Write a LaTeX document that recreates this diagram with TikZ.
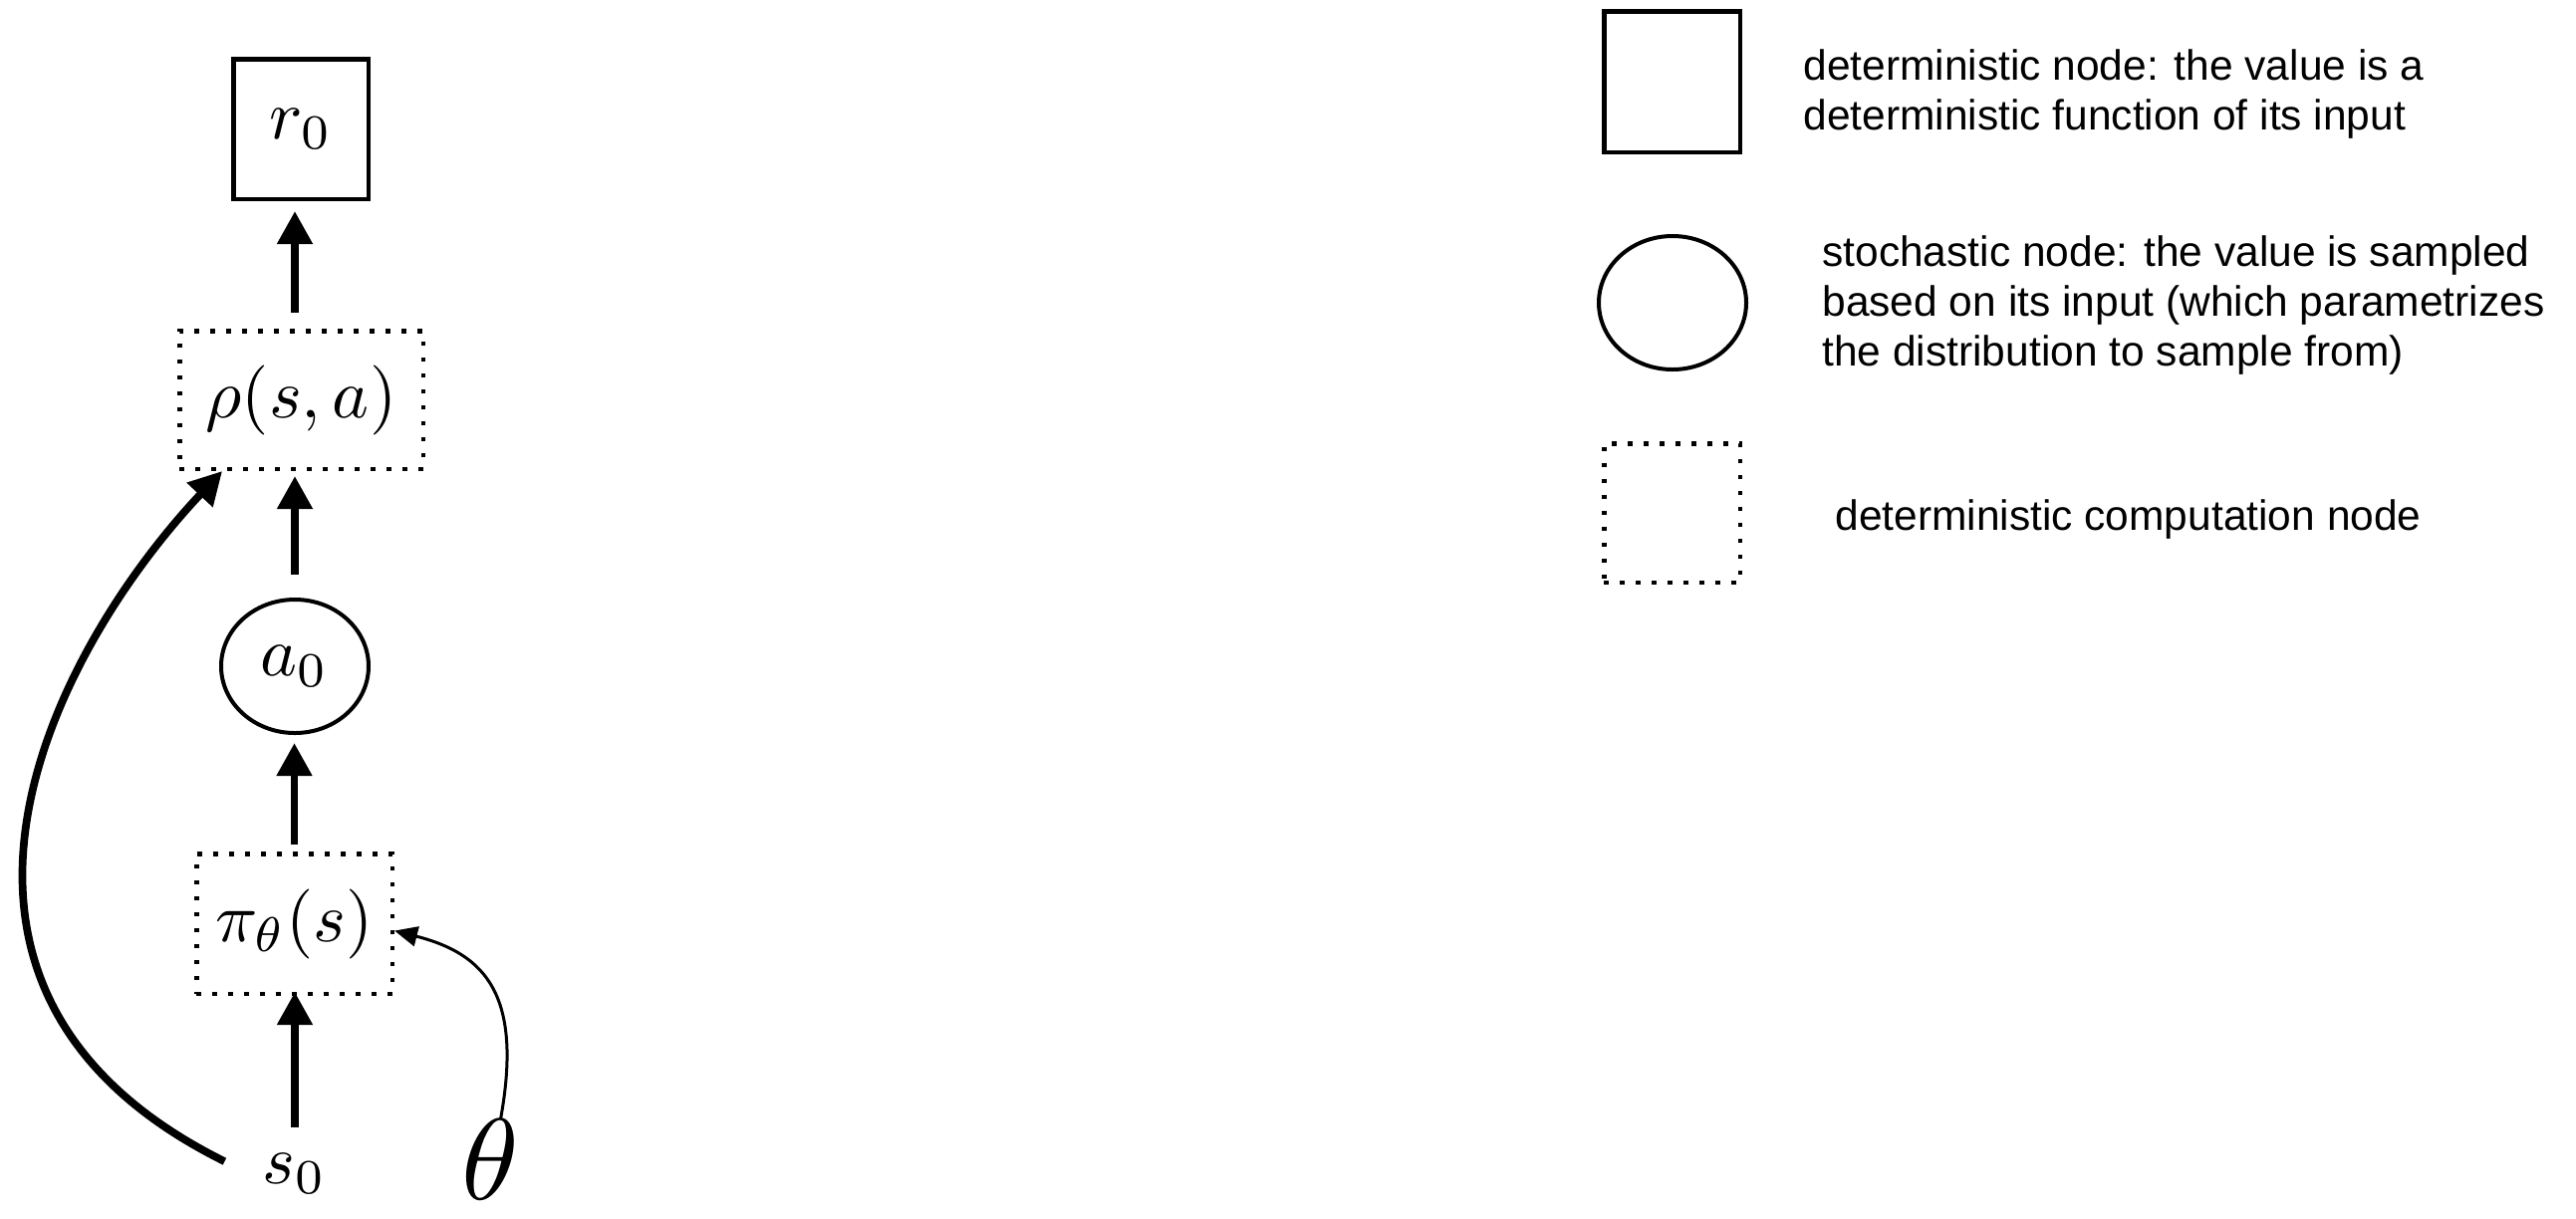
\documentclass[tikz,border=0pt]{standalone}
\usepackage{fontspec}
\newfontfamily\legendfont{Liberation Sans}
\usetikzlibrary{arrows.meta,calc,shapes.geometric}
\newcommand{\mlabel}[1]{\scalebox{3.5}{$#1$}}
\begin{document}
\begin{tikzpicture}[x=0.5pt,y=-0.5pt,
  detbox/.style={draw, line width=2.25pt, rectangle, inner sep=0pt},
  compbox/.style={draw, line width=2.25pt, dash pattern=on 2.25pt off 5.75pt, rectangle, inner sep=0pt},
  stochnode/.style={draw, line width=2pt, ellipse, inner sep=0pt},
  arr/.style={line width=3.85pt, -{Triangle[width=17pt,length=16.5pt]}},
  thinarr/.style={line width=1.5pt, -{Triangle[width=10pt,length=11.5pt]}},
  legendtext/.style={font=\legendfont\fontsize{21.25}{25}\selectfont, align=left, anchor=base west, inner sep=0pt}
]
\useasboundingbox (0,0) rectangle (2586,1223);
\path[fill=white] (0,0) rectangle (2586,1223);

% main graph
\node[detbox, minimum width=67.75pt, minimum height=70.25pt] (r0) at (302,129.5) {\mlabel{r_0}};
\node[compbox, minimum width=122.25pt, minimum height=69.25pt] (rho) at (302.5,401.5) {\mlabel{\rho(s,a)}};
\node[stochnode, minimum width=74pt, minimum height=67pt] (a0) at (296,669) {\mlabel{a_0}};
\node[compbox, minimum width=98.25pt, minimum height=70.25pt] (pi) at (295.5,927.5) {\mlabel{\pi_\theta(s)}};
\node[inner sep=0pt, anchor=base] (s0) at (296,1188) {\mlabel{s_0}};
\node[inner sep=0pt, anchor=north] (theta) at (492.5,1124) {\scalebox{5.8}{$\theta$}};

\draw[arr, shorten <=8pt, shorten >=5pt] (a0.north |- rho.north) -- (a0.north |- r0.south);
\draw[arr, shorten <=11.5pt, shorten >=2.5pt] (a0.north) -- (a0.north |- rho.south);
\draw[arr, shorten <=3.5pt, shorten >=4pt] (pi.north) -- (pi.north |- a0.south);
\draw[arr, shorten <=12.5pt, shorten >=-2pt] (s0.north) -- (s0.north |- pi.south);

\draw[arr] ([xshift=-19pt,yshift=6pt]s0.west) .. controls (-122,994) and (50,657) .. (rho.222);
\draw[thinarr] ([xshift=5pt]theta.north) .. controls (525,1000) and (488,958) .. (pi.-4);

% legend
\node[detbox, minimum width=68.25pt, minimum height=70.75pt] (legdet) at (1678.5,82) {};
\node[stochnode, minimum width=74pt, minimum height=67pt] (legsto) at (1679,304) {};
\node[compbox, minimum width=68.25pt, minimum height=69.75pt] (legcomp) at (1678.5,515) {};

\node[legendtext] (t1) at (1810,130) {deterministic node: the value is a\\deterministic function of its input};
\node[legendtext] (t2) at (1829,367) {stochastic node: the value is sampled\\based on its input (which parametrizes\\the distribution to sample from)};
\node[legendtext] (t3) at (1842,532) {deterministic computation node};
\end{tikzpicture}
\end{document}
